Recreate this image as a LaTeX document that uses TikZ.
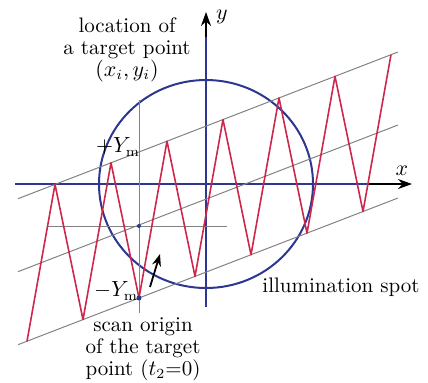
\documentclass[tikz,border=0pt]{standalone}
\usepackage{tikz}
\usetikzlibrary{arrows.meta}

\definecolor{axisblue}{RGB}{45,55,145}
\definecolor{zigred}{RGB}{205,40,75}
\definecolor{scangray}{RGB}{130,130,130}

\tikzset{
	axisline/.style={axisblue, line width=1pt},
	axistip/.style={black, line width=1pt, -{Stealth[length=7pt,width=5pt]}},
	scanline/.style={scangray, line width=0.5pt},
	zigline/.style={zigred, line width=0.8pt, line join=round},
	txt/.style={align=center, font=\fontsize{10.5}{11}\selectfont},
}

\begin{document}
\begin{tikzpicture}[x=0.5pt, y=-0.5pt]
	\useasboundingbox (0, 0) rectangle (428, 382);
	% axes
	\coordinate (xs) at (15, 184);
	\coordinate (xb) at (367, 184);
	\coordinate (xe) at (412, 184);
	\coordinate (ys) at (206, 307);
	\coordinate (yb) at (206, 37);
	\coordinate (ye) at (206, 12);
	\draw [axisline] (xs) -- (xb);
	\draw [axistip] (xb) -- (xe);
	\draw [axisline] (ys) -- (yb);
	\draw [axistip] (yb) -- (ye);
	\node [txt] (xlab) at (402, 171) {$x$};
	\node [txt] (ylab) at (222, 17) {$y$};
	% illumination spot
	\draw [axisblue, line width=1pt] (206, 184) ellipse [x radius=107, y radius=104];
	% scan lines
	\draw [scanline] (18, {52+0.386*380}) -- (398, 52);
	\draw [scanline] (18, {125+0.386*380}) -- (398, 125);
	\draw [scanline] (18, {198+0.386*380}) -- (398, 198);
	\draw [scanline] (139, 100) -- (139, 313);
	\draw [scanline] (47, 226) -- (227, 226);
	% scan path
	\draw [zigline, samples at={0,...,13}, variable=\i]
		plot ({27+28*\i}, {52+146*(1-mod(\i,2))+0.386*(398-27-28*\i)});
	\coordinate (orig) at (139, {198+0.386*259});
	\coordinate (mid) at (139, 226);
	\fill [axisblue] (orig) circle (2.5);
	\fill [axisblue] (mid) circle (2);
	\coordinate (as) at (150, 287);
	\coordinate (ae) at (160, 254);
	\draw [black, line width=0.9pt, -{Stealth[length=6pt,width=4.5pt]}] (as) -- (ae);
	% labels
	\node [txt] (ymax) at (118, 147) {$+Y_{\mathrm{m}}$};
	\node [txt] (ymin) at (116, 291) {$-Y_{\mathrm{m}}$};
	\node [txt] (target) at (127, 50) {location of\\a target point\\$(x_i, y_i)$};
	\node [txt] (origin) at (143, 349) {scan origin\\of the target\\point ($t_2$=0)};
	\node [txt] (spot) at (341, 287) {illumination spot};
\end{tikzpicture}
\end{document}
